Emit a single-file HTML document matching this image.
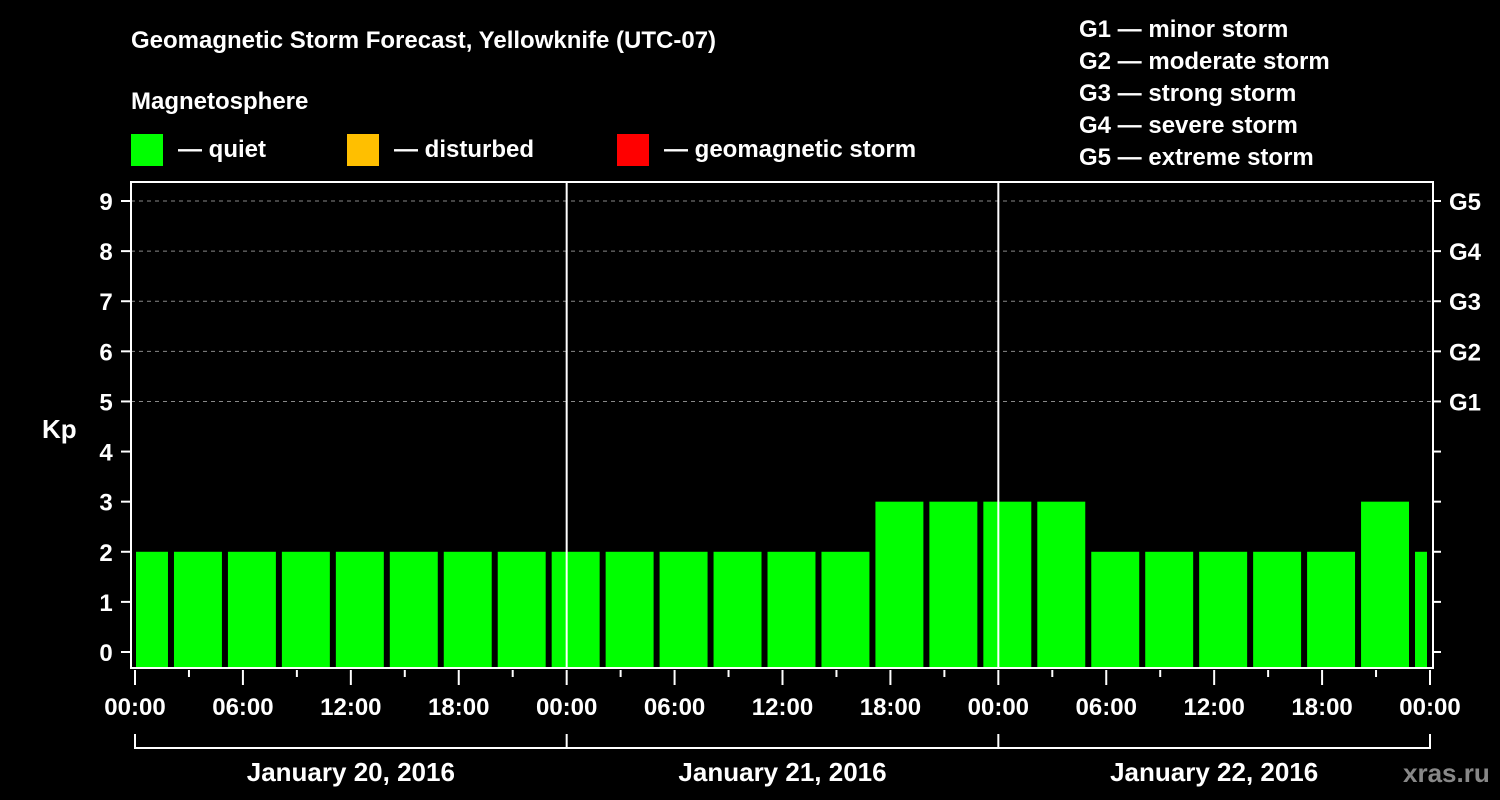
<!DOCTYPE html>
<html><head><meta charset="utf-8"><style>
body{margin:0;background:#000;}
svg{display:block;font-family:"Liberation Sans",Arial,sans-serif;font-weight:bold;}
</style></head><body>
<svg id="chart" width="1500" height="800" viewBox="0 0 1500 800">
<rect width="1500" height="800" fill="#000"/>
<text x="131" y="48" fill="#fff" font-size="24">Geomagnetic Storm Forecast, Yellowknife (UTC-07)</text>
<text x="131" y="109" fill="#fff" font-size="24">Magnetosphere</text>
<g><rect x="131" y="134" width="32" height="32" fill="#00ff00"/><text x="178" y="157" fill="#fff" font-size="24">— quiet</text></g>
<g><rect x="347" y="134" width="32" height="32" fill="#ffbf00"/><text x="394" y="157" fill="#fff" font-size="24">— disturbed</text></g>
<g><rect x="617" y="134" width="32" height="32" fill="#ff0000"/><text x="664" y="157" fill="#fff" font-size="24">— geomagnetic storm</text></g>
<g fill="#fff" font-size="24">
<text x="1079" y="37">G1 — minor storm</text>
<text x="1079" y="69">G2 — moderate storm</text>
<text x="1079" y="101">G3 — strong storm</text>
<text x="1079" y="133">G4 — severe storm</text>
<text x="1079" y="165">G5 — extreme storm</text>
</g>
<text x="42" y="438" fill="#fff" font-size="26">Kp</text>
<text x="1403" y="782" fill="#888" font-size="26">xras.ru</text>
<g id="grid"></g><g id="bars"></g><g id="axes"></g>
</svg>
<script>
const kpValues=[2,2,2,2,2,2,2,2,2,2,2,2,2,2,3,3,3,3,2,2,2,2,2,3,2];
const barHours=[2,3,3,3,3,3,3,3,3,3,3,3,3,3,3,3,3,3,3,3,3,3,3,3,1];
const timeLabels=["00:00","06:00","12:00","18:00","00:00","06:00","12:00","18:00","00:00","06:00","12:00","18:00","00:00"];
const dateLabels=["January 20, 2016","January 21, 2016","January 22, 2016"];
const gLabels=["G1","G2","G3","G4","G5"];
const NS="http://www.w3.org/2000/svg";
const X0=135,X1=1430,HOURS=72,Y0=652,PXK=50.11,TOP=182,BOT=668;
const xs=h=>X0+(X1-X0)*h/HOURS, ys=k=>Y0-k*PXK;
function mk(p,t,a){const e=document.createElementNS(NS,t);for(const k in a)e.setAttribute(k,a[k]);p.appendChild(e);return e;}
const grid=document.getElementById('grid'),bars=document.getElementById('bars'),axes=document.getElementById('axes');
for(let k=5;k<=9;k++){const l=mk(grid,'line',{x1:131,x2:1433,y1:ys(k),y2:ys(k),stroke:'#888','stroke-dasharray':'4,4','stroke-width':1});

}
let h=0;
kpValues.forEach((v,i)=>{const a=xs(h)+(i===0?1:3),b=xs(h+barHours[i])-3;h+=barHours[i];
const r=mk(bars,'rect',{x:a,y:ys(v),width:b-a,height:BOT-ys(v),fill:v>=5?'#ff0000':v>=4?'#ffbf00':'#00ff00'});

});
const box=mk(axes,'rect',{x:131,y:TOP,width:1302,height:BOT-TOP,fill:'none',stroke:'#fff','stroke-width':2});


[24,48].forEach(d=>{const l=mk(axes,'line',{x1:xs(d),x2:xs(d),y1:TOP,y2:BOT,stroke:'#fff','stroke-width':2});

});
for(let k=0;k<=9;k++){mk(axes,'line',{x1:121,x2:131,y1:ys(k),y2:ys(k),stroke:'#fff','stroke-width':2});
mk(axes,'line',{x1:1433,x2:1441,y1:ys(k),y2:ys(k),stroke:'#fff','stroke-width':2});
const t=mk(axes,'text',{x:106,y:ys(k)+9,fill:'#fff','font-size':24,'text-anchor':'middle'});t.textContent=k;

}
gLabels.forEach((g,i)=>{const t=mk(axes,'text',{x:1449,y:ys(5+i)+9,fill:'#fff','font-size':24});t.textContent=g;

});
for(let hh=0;hh<=72;hh+=3){const major=hh%6===0;mk(axes,'line',{x1:xs(hh),x2:xs(hh),y1:670,y2:major?685:677,stroke:'#fff','stroke-width':2});}
timeLabels.forEach((s,i)=>{const t=mk(axes,'text',{x:xs(i*6),y:715,fill:'#fff','font-size':24,'text-anchor':'middle'});t.textContent=s;

});
mk(axes,'polyline',{points:`${xs(0)},734 ${xs(0)},748 ${xs(72)},748 ${xs(72)},734`,fill:'none',stroke:'#fff','stroke-width':2});
[24,48].forEach(d=>mk(axes,'line',{x1:xs(d),x2:xs(d),y1:734,y2:748,stroke:'#fff','stroke-width':2}));
dateLabels.forEach((s,i)=>{const t=mk(axes,'text',{x:xs(i*24+12),y:781,fill:'#fff','font-size':26,'text-anchor':'middle'});t.textContent=s;

});
</script>
</body></html>
